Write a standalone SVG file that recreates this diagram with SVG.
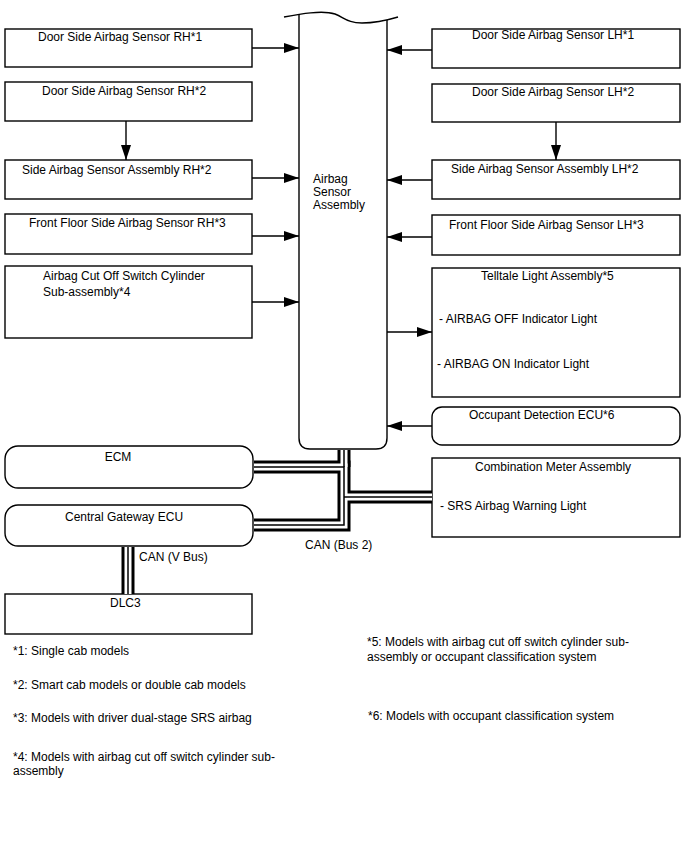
<svg xmlns="http://www.w3.org/2000/svg" width="688" height="852" viewBox="0 0 688 852">
<style>
  .box{fill:#fff;stroke:#000;stroke-width:1.4}
  .ln{fill:none;stroke:#000;stroke-width:1.4}
  text{font-family:"Liberation Sans",Arial,sans-serif;font-size:12px;fill:#000}
  .b1{fill:none;stroke:#000;stroke-width:13}
  .b2{fill:none;stroke:#fff;stroke-width:7}
  .b3{fill:none;stroke:#000;stroke-width:1.5}
</style>
<defs>
  <marker id="ah" markerUnits="userSpaceOnUse" markerWidth="16" markerHeight="12" refX="15" refY="5" orient="auto">
    <path d="M0,0 L15,5 L0,10 Z" fill="#000"/>
  </marker>
</defs>
<rect width="688" height="852" fill="#fff"/>

<g id="airbag-sensor-assembly">
  <path d="M299,15 V438 Q299,449 310,449 H376 Q387,449 387,438 V20 Z" fill="#fff" stroke="none"/>
  <path class="ln" d="M299,15 V438 Q299,449 310,449 H376 Q387,449 387,438 V20"/>
  <path class="ln" d="M284,17 C300,14 322,10 335,14 C345,18 348,23 362,23 C375,23 388,20 398,17"/>
  <text x="313" y="183">Airbag</text>
  <text x="313" y="196">Sensor</text>
  <text x="313" y="209">Assembly</text>
</g>

<g id="rh1"><rect class="box" x="5" y="29" width="247" height="38"/><text x="38" y="41">Door Side Airbag Sensor RH*1</text></g>
<g id="rh2"><rect class="box" x="5" y="82" width="247" height="39"/><text x="42" y="95">Door Side Airbag Sensor RH*2</text></g>
<g id="side-rh2"><rect class="box" x="5" y="160" width="247" height="39"/><text x="22" y="174">Side Airbag Sensor Assembly RH*2</text></g>
<g id="front-rh3"><rect class="box" x="5" y="214" width="247" height="40"/><text x="29" y="227">Front Floor Side Airbag Sensor RH*3</text></g>
<g id="cutoff"><rect class="box" x="5" y="266" width="247" height="72"/><text x="43" y="280">Airbag Cut Off Switch Cylinder</text><text x="43" y="296">Sub-assembly*4</text></g>
<g id="ecm"><rect class="box" x="5" y="446" width="248" height="42" rx="13"/><text x="118" y="461" text-anchor="middle">ECM</text></g>
<g id="gateway"><rect class="box" x="5" y="505" width="248" height="41" rx="13"/><text x="65" y="521">Central Gateway ECU</text></g>
<g id="dlc3"><rect class="box" x="5" y="594" width="247" height="40"/><text x="110" y="607">DLC3</text></g>

<g id="lh1"><rect class="box" x="432" y="29" width="248" height="39"/><text x="472" y="39">Door Side Airbag Sensor LH*1</text></g>
<g id="lh2"><rect class="box" x="432" y="84" width="248" height="38"/><text x="472" y="96">Door Side Airbag Sensor LH*2</text></g>
<g id="side-lh2"><rect class="box" x="432" y="160" width="248" height="39"/><text x="451" y="173">Side Airbag Sensor Assembly LH*2</text></g>
<g id="front-lh3"><rect class="box" x="432" y="215" width="248" height="40"/><text x="449" y="229">Front Floor Side Airbag Sensor LH*3</text></g>
<g id="telltale"><rect class="box" x="432" y="268" width="248" height="129"/><text x="481" y="280">Telltale Light Assembly*5</text><text x="439" y="323">- AIRBAG OFF Indicator Light</text><text x="437" y="368">- AIRBAG ON Indicator Light</text></g>
<g id="occupant"><rect class="box" x="432" y="407" width="248" height="38" rx="10"/><text x="469" y="419">Occupant Detection ECU*6</text></g>
<g id="meter"><rect class="box" x="432" y="458" width="248" height="79"/><text x="475" y="471">Combination Meter Assembly</text><text x="440" y="510">- SRS Airbag Warning Light</text></g>

<g id="connectors">
  <path class="ln" d="M252,48 H299" marker-end="url(#ah)"/>
  <path class="ln" d="M126,121 V160" marker-end="url(#ah)"/>
  <path class="ln" d="M252,178 H299" marker-end="url(#ah)"/>
  <path class="ln" d="M252,236 H299" marker-end="url(#ah)"/>
  <path class="ln" d="M252,302 H299" marker-end="url(#ah)"/>
  <path class="ln" d="M432,50 H387" marker-end="url(#ah)"/>
  <path class="ln" d="M556,122 V160" marker-end="url(#ah)"/>
  <path class="ln" d="M432,180 H387" marker-end="url(#ah)"/>
  <path class="ln" d="M432,237 H387" marker-end="url(#ah)"/>
  <path class="ln" d="M387,332 H432" marker-end="url(#ah)"/>
  <path class="ln" d="M432,426 H387" marker-end="url(#ah)"/>

  <g id="buses">
    <path class="b1" d="M254,467 H344 V525 H254"/>
    <path class="b1" d="M344,450 V467"/>
    <path class="b1" d="M344,497 H432"/>
    <path class="b1" d="M128,547 V594"/>
    <path class="b2" d="M254,467 H344 V525 H254"/>
    <path class="b2" d="M344,450 V467"/>
    <path class="b2" d="M344,497 H432"/>
    <path class="b2" d="M128,547 V594"/>
    <path class="b3" d="M254,467 H344 V525 H254"/>
    <path class="b3" d="M344,450 V467"/>
    <path class="b3" d="M344,497 H432"/>
    <path class="b3" d="M128,547 V594"/>
  </g>
  <text x="305" y="549">CAN (Bus 2)</text>
  <text x="139" y="561">CAN (V Bus)</text>
</g>

<g id="notes">
  <text x="13" y="655">*1: Single cab models</text>
  <text x="13" y="689">*2: Smart cab models or double cab models</text>
  <text x="13" y="722">*3: Models with driver dual-stage SRS airbag</text>
  <text x="13" y="761">*4: Models with airbag cut off switch cylinder sub-</text>
  <text x="13" y="775">assembly</text>
  <text x="367" y="646">*5: Models with airbag cut off switch cylinder sub-</text>
  <text x="367" y="661">assembly or occupant classification system</text>
  <text x="368" y="720">*6: Models with occupant classification system</text>
</g>
</svg>
